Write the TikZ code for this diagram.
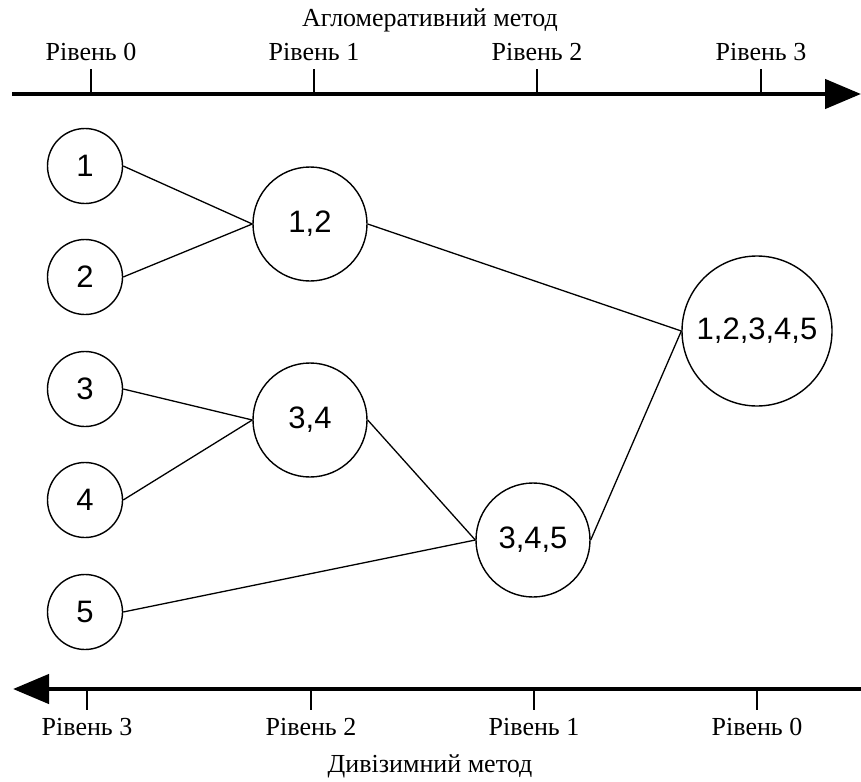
\documentclass[tikz,border=0pt]{standalone}
\usepackage{fontspec}
\setmainfont{Liberation Serif}
\newfontfamily\arialfont{Liberation Sans}
\usetikzlibrary{arrows.meta}
\begin{document}
\begin{tikzpicture}[x=1pt,y=-1pt,
  cl/.style={circle,draw,line width=1.4pt,inner sep=0pt,font=\arialfont\fontsize{31}{31}\selectfont},
  sm/.style={cl,minimum size=75pt},
  md/.style={cl,minimum size=114pt},
  lg/.style={cl,minimum size=150pt},
  edge/.style={line width=1.3pt},
  axis/.style={line width=4.5pt,-{Triangle[length=36pt,width=29pt]}},
  tick/.style={line width=1.6pt},
  lvl/.style={font=\fontsize{26}{26}\selectfont,inner sep=0pt,anchor=base},
]
\useasboundingbox (0,0) rectangle (861,781);
% top axis
\coordinate (ta) at (12,94);
\coordinate (tb) at (861,94);
\draw[axis] (ta) -- (tb);
\foreach \x/\n [count=\i] in {91/0,314/1,537/2,761/3}{
  \coordinate (tt\i) at (\x,94);
  \draw[tick] (tt\i) -- ++(0,-25);
  \node[lvl] (tl\i) at (\x,61) {Рівень \n};
}
\node[lvl] (ttitle) at (430,27) {Агломеративний метод};
% bottom axis
\coordinate (ba) at (861,689);
\coordinate (bb) at (13,689);
\draw[axis] (ba) -- (bb);
\foreach \x/\n [count=\i] in {87/3,311/2,534/1,757/0}{
  \coordinate (bt\i) at (\x,689);
  \draw[tick] (bt\i) -- ++(0,21);
  \node[lvl] (bl\i) at (\x,735) {Рівень \n};
}
\node[lvl] (btitle) at (430,772) {Дивізимний метод};
% nodes
\node[sm] (n1) at (85,166) {1};
\node[sm] (n2) at (85,277) {2};
\node[sm] (n3) at (85,389) {3};
\node[sm] (n4) at (85,500) {4};
\node[sm] (n5) at (85,612) {5};
\node[md] (n12) at (310,224) {1,2};
\node[md] (n34) at (310,420) {3,4};
\node[md] (n345) at (533,540) {3,4,5};
\node[lg] (nall) at (757,331) {1,2,3,4,5};
% edges
\draw[edge] (n1.east) -- (n12.west);
\draw[edge] (n2.east) -- (n12.west);
\draw[edge] (n3.east) -- (n34.west);
\draw[edge] (n4.east) -- (n34.west);
\draw[edge] (n34.east) -- (n345.west);
\draw[edge] (n5.east) -- (n345.west);
\draw[edge] (n12.east) -- (nall.west);
\draw[edge] (n345.east) -- (nall.west);
\end{tikzpicture}
\end{document}
